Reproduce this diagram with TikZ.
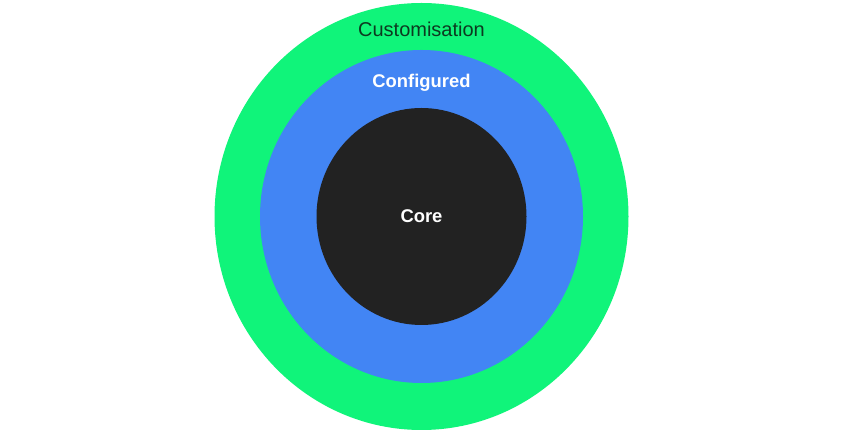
\documentclass[tikz,border=0pt]{standalone}
\usepackage{fontspec}
\setmainfont{Liberation Sans}
\usetikzlibrary{shapes.geometric}
\definecolor{ringgreen}{HTML}{10F47A}
\definecolor{ringblue}{HTML}{4285F4}
\definecolor{coredark}{HTML}{222222}
\definecolor{labelgreen}{HTML}{0C3A20}
\begin{document}
\begin{tikzpicture}[x=1pt,y=1pt,
  ring/.style={ellipse, draw=none, inner sep=0pt},
  whitelabel/.style={text=white, font=\fontsize{18.4}{20}\selectfont\bfseries, anchor=base, inner sep=0pt}]
\useasboundingbox (0,0) rectangle (843,433);
\node[ring, fill=ringgreen, minimum width=414pt, minimum height=427pt] (outer) at (421.5,216.5) {};
\node[ring, fill=ringblue, minimum width=323pt, minimum height=333pt] (middle) at (421.5,216.5) {};
\node[ring, fill=coredark, minimum width=210pt, minimum height=217pt] (core) at (421.5,216.5) {};
\node[text=labelgreen, font=\fontsize{20}{22}\selectfont, anchor=base, inner sep=0pt] (customisation) at (421.5,396) {Customisation};
\node[whitelabel] (configured) at (421.5,345) {Configured};
\node[whitelabel] (corelabel) at (421.5,210) {Core};
\end{tikzpicture}
\end{document}
